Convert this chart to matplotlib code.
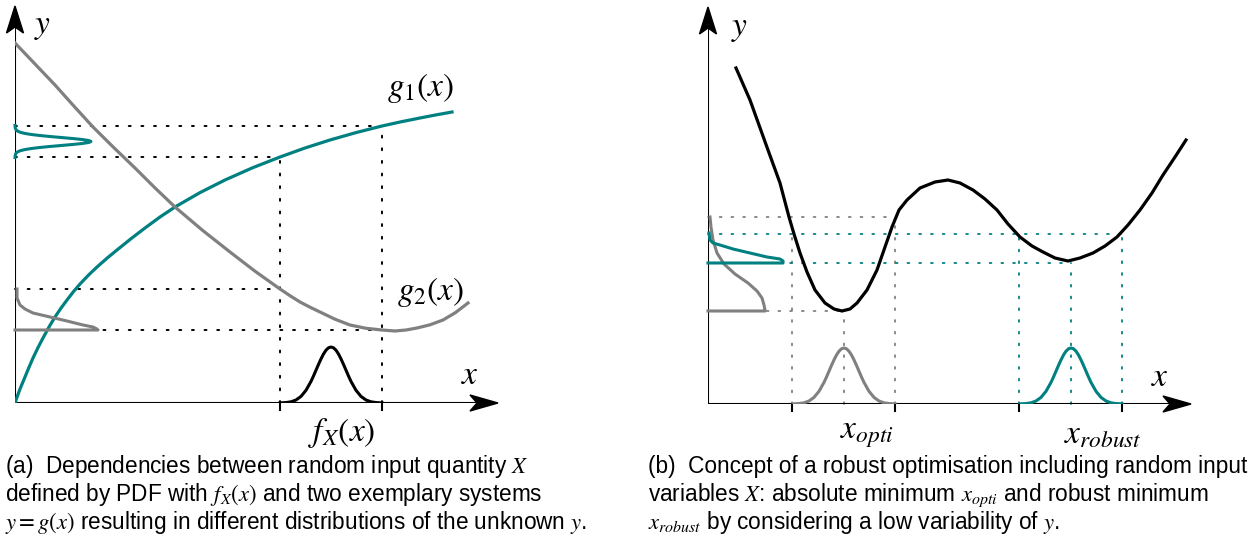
import numpy as np
import matplotlib
matplotlib.use('Agg')
import matplotlib.pyplot as plt
from matplotlib.patches import Polygon

plt.rcParams['font.family'] = ['Liberation Sans', 'DejaVu Sans']
plt.rcParams['mathtext.fontset'] = 'stix'

TEAL = '#008080'
GRAY = '#808080'

# panel (a): the two systems
g1_x = [0, 2.5, 5, 10, 14, 18, 23, 28, 34, 40, 46, 52, 58.5, 65, 73.5, 82, 92, 102, 116, 130,
        145, 160, 185, 210, 237.5, 265, 290, 315, 341, 367, 386, 405, 421, 437]
g1_y = [0, 7.2, 14, 26, 35.7, 45, 55.4, 65, 76, 86, 94.9, 103, 111.4, 119, 127.9, 136, 144.8,
        153, 164.3, 175, 186, 196, 210.4, 223, 235.2, 246, 255, 263, 270.4, 277, 281.2, 285,
        288.1, 291]
g2_x = [0, 20, 40, 59, 78, 99, 120, 140, 160, 187.5, 215, 240, 265, 275, 285, 295, 305, 320,
        335, 351, 367, 380, 391, 402, 415, 428, 440.5, 453]
g2_y = [360, 339, 318, 296.8, 276, 255.2, 235, 215.1, 196, 172.7, 151, 131.8, 114, 107.3, 101,
        95.8, 91, 83.8, 78, 74.7, 73, 72, 73, 75, 78.2, 83, 90.4, 100]

# bell shape shared by the input PDFs (offset from centre, height)
bell_d = [0, 2.5, 5, 7.5, 10, 12.5, 15, 17.5, 20, 25, 30, 35, 40, 45, 51]
bell_h = [56, 55.2, 52.8, 49.0, 44.1, 38.6, 32.8, 27.0, 21.6, 12.7, 6.6, 3.0, 1.2, 0.45, 0.1]

fx_centre = 316
xa_lo, xa_hi = 265, 367          # input range in panel (a)
ya1_hi, ya1_lo = 277, 246        # g1 at the range ends
ya2_hi, ya2_lo = 114, 73         # g2 at the range end / minimum

# output PDF of g1 (teal) on the y axis: offset from centre, width
ya_teal_c = 261.5
ya_teal_d = [0, 1, 2, 3, 4, 5, 6, 7, 8, 9, 10, 11, 12, 14, 16]
ya_teal_w = [76, 73.7, 67.1, 57.4, 46.1, 34.8, 24.7, 16.4, 10.3, 6.0, 3.3, 1.7, 0.8, 0.2, 0]

# output PDF of g2 (gray) on the y axis
ya_gray_x = [2, 2, 5, 10, 18, 35, 52, 68, 78, 82, 83, 83, 0]
ya_gray_y = [114, 105, 98, 94, 90, 86, 82, 78, 76, 74, 73, 73, 73]

# panel (b): objective function
h_x = [28, 42, 60, 72, 81, 86, 92, 99, 107, 117, 126, 134, 142, 149, 159, 169, 177, 184,
       191, 199, 212, 227, 240, 252, 265, 277, 289, 300, 312, 324, 335, 347, 360, 372,
       385, 397, 409, 420, 432, 444, 455, 467, 478]
h_y = [336, 304, 254, 221, 187, 170, 151, 132, 114, 101, 95, 93, 95, 101, 114, 134, 157, 177,
       194, 204, 216, 222, 224, 221, 214, 205, 194, 180, 167, 158, 152, 146, 143, 146,
       151, 158, 167, 179, 194, 211, 229, 247, 264]

x_opti, x_robust = 136, 363
xo_lo, xo_hi = 84, 187
xr_lo, xr_hi = 311, 414
yo_hi, yo_lo = 187, 93
yr_hi, yr_lo = 170, 141

yb_teal_x = [1, 2, 5, 12, 25, 42, 59, 72, 75, 75, 0]
yb_teal_y = [171, 164, 161, 159, 155, 151, 147, 145, 143, 141, 141]
yb_gray_x = [2, 3, 5, 9, 16, 27, 40, 49, 54, 56, 57, 57, 0]
yb_gray_y = [187, 177, 164, 151, 140, 130, 121, 113, 106, 99, 94, 93, 93]

caption_a = ["(a)  Dependencies between random input quantity $X$",
             "defined by PDF with $f_X(x)$ and two exemplary systems",
             "$y=g(x)$ resulting in different distributions of the unknown $y$."]
caption_b = ["(b)  Concept of a robust optimisation including random input",
             "variables $X$: absolute minimum $x_{opti}$ and robust minimum",
             "$x_{robust}$ by considering a low variability of $y$."]

W, H = 1257, 552
fig = plt.figure(figsize=(W / 100, H / 100), dpi=100)


def panel(ox, oy):
    ax = fig.add_axes([ox / W, (H - oy) / H, 490 / W, 400 / H])
    ax.set_xlim(0, 490)
    ax.set_ylim(0, 400)
    ax.axis('off')
    # axes with stealth-like heads
    ax.plot([0, 462], [0, 0], color='k', lw=1.5, solid_capstyle='butt')
    ax.plot([0, 0], [0, 376], color='k', lw=1.5, solid_capstyle='butt')
    ax.add_patch(Polygon([(483, 0), (455, 8), (462, 0), (455, -8)], closed=True,
                         color='k', clip_on=False, zorder=5))
    ax.add_patch(Polygon([(0, 397), (8.5, 370), (0, 376), (-8.5, 370)], closed=True,
                         color='k', clip_on=False, zorder=5))
    return ax


def dots(ax, xs, ys, color, lw):
    ax.plot(xs, ys, color=color, lw=lw, ls=(0, (1, 5.5)), dash_capstyle='round',
            clip_on=False, zorder=1)


def tick(ax, x):
    ax.plot([x, x], [0, -7], color='k', lw=1.5, clip_on=False)


bell_d = np.array(bell_d)
bell_h = np.array(bell_h)
bell_x = np.concatenate([-bell_d[::-1], bell_d[1:]])
bell_y = np.concatenate([bell_h[::-1], bell_h[1:]])

LAB = 24

# ---------------- panel (a)
ax = panel(15, 403)
dots(ax, [0, xa_hi], [ya1_hi, ya1_hi], 'k', 1.4)
dots(ax, [0, xa_lo], [ya1_lo, ya1_lo], 'k', 1.4)
dots(ax, [0, xa_lo], [ya2_hi, ya2_hi], 'k', 1.4)
dots(ax, [0, xa_hi], [ya2_lo, ya2_lo], 'k', 1.4)
dots(ax, [xa_lo, xa_lo], [0, ya1_lo], 'k', 1.4)
dots(ax, [xa_hi, xa_hi], [0, ya1_hi], 'k', 1.4)
tick(ax, xa_lo)
tick(ax, xa_hi)

ax.plot(g1_x, g1_y, color=TEAL, lw=2.3, zorder=3)
ax.plot(g2_x, g2_y, color=GRAY, lw=2.3, zorder=3)
ax.plot(bell_x + fx_centre, bell_y, color='k', lw=2.2, zorder=3)

td = np.array(ya_teal_d)
tw = np.array(ya_teal_w)
ax.plot(np.concatenate([tw[::-1], tw[1:]]),
        np.concatenate([ya_teal_c + td[::-1], ya_teal_c - td[1:]]),
        color=TEAL, lw=2.2, zorder=3, clip_on=False)
ax.plot(ya_gray_x, ya_gray_y, color=GRAY, lw=2.2, zorder=3, clip_on=False)

ax.text(28, 376, '$y$', fontsize=LAB, ha='center', va='center')
ax.text(455, 28, '$x$', fontsize=LAB, ha='center', va='center')
ax.text(406, 315, '$g_1(x)$', fontsize=LAB, ha='center', va='center')
ax.text(416, 111, '$g_2(x)$', fontsize=LAB, ha='center', va='center')
ax.text(327, -30, '$f_X(x)$', fontsize=LAB, ha='center', va='center')

# ---------------- panel (b)
bx = panel(708, 404)
dots(bx, [0, xo_hi], [yo_hi, yo_hi], GRAY, 1.3)
dots(bx, [0, x_opti], [yo_lo, yo_lo], GRAY, 1.3)
dots(bx, [xo_lo, xo_lo], [0, yo_hi], GRAY, 1.3)
dots(bx, [x_opti, x_opti], [0, yo_lo], GRAY, 1.3)
dots(bx, [xo_hi, xo_hi], [0, yo_hi], GRAY, 1.3)
dots(bx, [0, xr_hi], [yr_hi, yr_hi], TEAL, 1.3)
dots(bx, [0, x_robust], [yr_lo, yr_lo], TEAL, 1.3)
dots(bx, [xr_lo, xr_lo], [0, yr_hi], TEAL, 1.3)
dots(bx, [x_robust, x_robust], [0, yr_lo], TEAL, 1.3)
dots(bx, [xr_hi, xr_hi], [0, yr_hi], TEAL, 1.3)
for t in (xo_lo, xo_hi, xr_lo, xr_hi):
    tick(bx, t)

bx.plot(h_x, h_y, color='k', lw=2.3, zorder=3)
bx.plot(bell_x + x_opti, bell_y, color=GRAY, lw=2.2, zorder=3)
bx.plot(bell_x + x_robust, bell_y, color=TEAL, lw=2.2, zorder=3)
bx.plot(yb_gray_x, yb_gray_y, color=GRAY, lw=2.2, zorder=3, clip_on=False)
bx.plot(yb_teal_x, yb_teal_y, color=TEAL, lw=2.2, zorder=4, clip_on=False)

bx.text(32, 376, '$y$', fontsize=LAB, ha='center', va='center')
bx.text(452, 26, '$x$', fontsize=LAB, ha='center', va='center')
bx.text(159, -31, '$x_{opti}$', fontsize=LAB, ha='center', va='center')
bx.text(395, -31, '$x_{robust}$', fontsize=LAB, ha='center', va='center')

# ---------------- captions
for i, line in enumerate(caption_a):
    fig.text(5 / W, 1 - (467 + 28 * i) / H, line, fontsize=16.3, ha='left', va='center')
for i, line in enumerate(caption_b):
    fig.text(648 / W, 1 - (467 + 28 * i) / H, line, fontsize=16.3, ha='left', va='center')

fig.savefig('out.png', dpi=100)
